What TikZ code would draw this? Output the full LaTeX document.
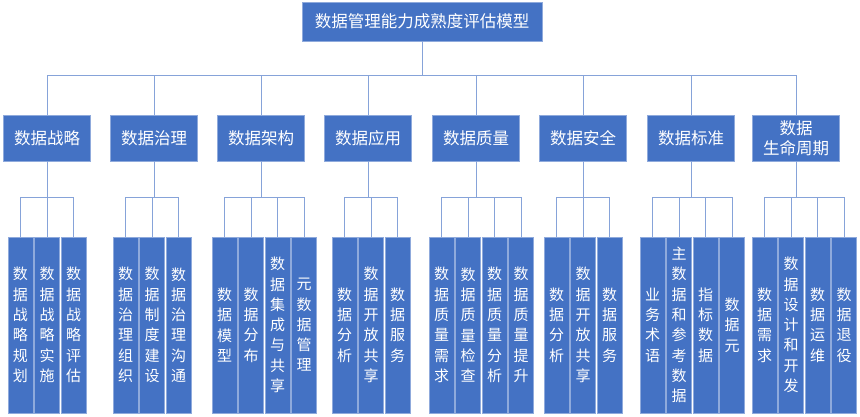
\documentclass[tikz,border=0pt]{standalone}
\usepackage{fontspec}
\newfontfamily\cjk{Noto Sans CJK SC}
\usetikzlibrary{positioning}
\usetikzlibrary{calc}
\definecolor{boxBlue}{HTML}{4472C4}
\definecolor{edgeBlue}{HTML}{8FAADC}
\definecolor{wireBlue}{HTML}{86A3D9}
\tikzset{
	topBox/.style={rectangle, fill=boxBlue, draw=edgeBlue, line width=0.8pt, text=white,
		font=\cjk\fontsize{16.5}{20}\selectfont, minimum width=240pt, minimum height=39pt, inner sep=0pt},
	catBox/.style={rectangle, fill=boxBlue, draw=edgeBlue, line width=0.8pt, text=white, align=center,
		font=\cjk\fontsize{16.5}{20}\selectfont, minimum width=87pt, minimum height=46pt, inner sep=0pt},
	leafBox/.style={rectangle, fill=boxBlue, draw=edgeBlue, line width=0.6pt, text=white, align=center,
		font=\cjk\fontsize{15}{20.3}\selectfont, text width=25pt, minimum width=25pt, minimum height=176pt, inner sep=0pt},
}

\begin{document}
\begin{tikzpicture}[x=1pt, y=-1pt,
		wire/.style={draw=wireBlue, line width=0.9pt}]
	
	\useasboundingbox (0,0) rectangle (860,416);
	
	% model title - everything hangs below it
	\node[topBox] (title) at (422,21.5) {数据管理能力成熟度评估模型};
	\coordinate (bus) at (422,75);
	
	% capability areas
	\foreach \g/\cx/\name in {1/47/数据战略, 2/154/数据治理, 3/261/数据架构, 4/368/数据应用,
		5/476/数据质量, 6/583/数据安全, 7/691/数据标准}
	{
		\node[catBox] (c\g) at (\cx,138) {\name};
	}
	\node[catBox] (c8) at (796,138) {数据\\生命周期}; % two line label
	
	% process domains, one column per item
	\foreach \txt [count=\i] in {{数\\据\\战\\略\\规\\划}, {数\\据\\战\\略\\实\\施}, {数\\据\\战\\略\\评\\估}}
		\node[leafBox] (l1-\i) at ({8+12.5+(\i-1)*26.5},325) {\txt};
	\foreach \txt [count=\i] in {{数\\据\\治\\理\\组\\织}, {数\\据\\制\\度\\建\\设}, {数\\据\\治\\理\\沟\\通}}
		\node[leafBox] (l2-\i) at ({113+12.5+(\i-1)*26.5},325) {\txt};
	\foreach \txt [count=\i] in {{数\\据\\模\\型}, {数\\据\\分\\布}, {数\\据\\集\\成\\与\\共\\享}, {元\\数\\据\\管\\理}}
		\node[leafBox] (l3-\i) at ({212+12.5+(\i-1)*26.5},325) {\txt};
	\foreach \txt [count=\i] in {{数\\据\\分\\析}, {数\\据\\开\\放\\共\\享}, {数\\据\\服\\务}}
		\node[leafBox] (l4-\i) at ({332+12.5+(\i-1)*26.5},325) {\txt};
	\foreach \txt [count=\i] in {{数\\据\\质\\量\\需\\求}, {数\\据\\质\\量\\检\\查}, {数\\据\\质\\量\\分\\析}, {数\\据\\质\\量\\提\\升}}
		\node[leafBox] (l5-\i) at ({429+12.5+(\i-1)*26.5},325) {\txt};
	\foreach \txt [count=\i] in {{数\\据\\分\\析}, {数\\据\\开\\放\\共\\享}, {数\\据\\服\\务}}
		\node[leafBox] (l6-\i) at ({544+12.5+(\i-1)*26.5},325) {\txt};
	\foreach \txt [count=\i] in {{业\\务\\术\\语}, {主\\数\\据\\和\\参\\考\\数\\据}, {指\\标\\数\\据}, {数\\据\\元}}
		\node[leafBox] (l7-\i) at ({640+12.5+(\i-1)*26.5},325) {\txt};
	\foreach \txt [count=\i] in {{数\\据\\需\\求}, {数\\据\\设\\计\\和\\开\\发}, {数\\据\\运\\维}, {数\\据\\退\\役}}
		\node[leafBox] (l8-\i) at ({752+12.5+(\i-1)*26.5},325) {\txt};
	
	% title to areas
	\draw[wire] (title.south) -- (title.south |- bus);
	\draw[wire] (c1.north |- bus) -- (c8.north |- bus);
	\foreach \g in {1,...,8}
		\draw[wire] (c\g.north) -- (c\g.north |- bus);
	
	% areas to domains, sub bus at y=197
	\foreach \g/\n in {1/3, 2/3, 3/4, 4/3, 5/4, 6/3, 7/4, 8/4}
	{
		\coordinate (b\g) at ($(c\g.south) + (0,36)$);
		\draw[wire] (c\g.south) -- (b\g);
		\draw[wire] (l\g-1.north |- b\g) -- (l\g-\n.north |- b\g);
		\foreach \i in {1,...,\n}
			\draw[wire] (l\g-\i.north) -- (l\g-\i.north |- b\g);
	}
	
\end{tikzpicture}
\end{document}
